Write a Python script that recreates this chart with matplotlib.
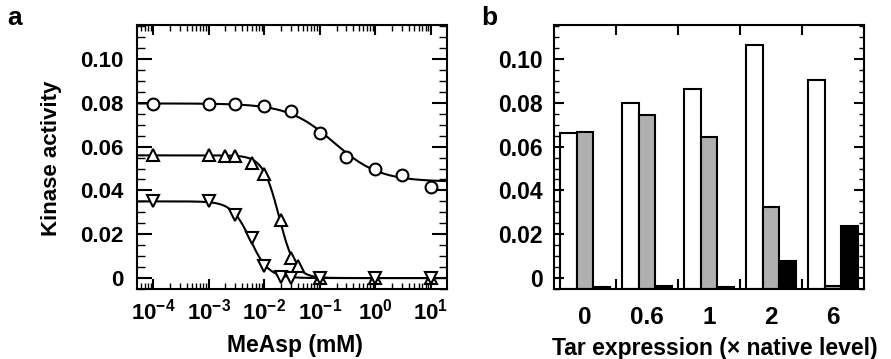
import numpy as np
import matplotlib
matplotlib.use("Agg")
import matplotlib.pyplot as plt
from matplotlib.ticker import LogLocator, MultipleLocator, NullFormatter, FixedLocator

plt.rcParams['font.family'] = ['Liberation Sans', 'DejaVu Sans']
plt.rcParams['font.weight'] = 'bold'
plt.rcParams['mathtext.fontset'] = 'custom'
plt.rcParams['mathtext.rm'] = 'Liberation Sans:bold'
plt.rcParams['mathtext.it'] = 'Liberation Sans:italic:bold'
plt.rcParams['mathtext.bf'] = 'Liberation Sans:bold'
plt.rcParams['mathtext.default'] = 'bf'

# ---------------- Panel a data ----------------
circle_x = [1e-4, 1e-3, 3e-3, 1e-2, 3e-2, 1e-1, 3e-1, 1, 3, 10]
circle_y = [0.0796, 0.0796, 0.0796, 0.0787, 0.0761, 0.0662, 0.0551, 0.0498, 0.0472, 0.0416]

up_x = [1e-4, 1e-3, 2e-3, 3e-3, 6e-3, 1e-2, 2e-2, 3e-2, 4e-2, 1e-1, 1, 10]
up_y = [0.0560, 0.0560, 0.0555, 0.0555, 0.0525, 0.0476, 0.0266, 0.0091, 0.0053, 0.0, 0.0, 0.0]

down_x = [1e-4, 1e-3, 3e-3, 6e-3, 1e-2, 2e-2, 3e-2, 1e-1, 1, 10]
down_y = [0.0350, 0.0350, 0.0289, 0.0183, 0.0053, 0.0005, 0.0, 0.0, 0.0, 0.0]

# fitted curve parameters (top, bottom, K, n)
circle_fit = (0.0797, 0.0440, 0.18, 1.05)
up_fit = (0.0560, 0.0, 0.0185, 3.0)
down_fit = (0.0350, 0.0, 0.0056, 2.6)

# ---------------- Panel b data ----------------
tar_levels = ['0', '0.6', '1', '2', '6']
white_vals = [0.0660, 0.0800, 0.0863, 0.1065, 0.0905]
gray_vals = [0.0666, 0.0742, 0.0646, 0.0323, -0.0035]
black_vals = [-0.0040, -0.0035, -0.0040, 0.0076, 0.0236]

y_ticks = [0, 0.02, 0.04, 0.06, 0.08, 0.10]
y_ticklabels = ['0', '0.02', '0.04', '0.06', '0.08', '0.10']

fig = plt.figure(figsize=(8.91, 3.59), dpi=100)
ax1 = fig.add_axes([137/891, 70/359, 310/891, 264/359])
ax2 = fig.add_axes([554/891, 70/359, 310/891, 264/359])

FS = 16
LW = 1.5

def hill(x, p):
    top, bot, K, n = p
    return bot + (top - bot) / (1 + (x / K) ** n)

xlim_a = (10 ** -4.29, 10 ** 1.29)
xs = np.logspace(np.log10(xlim_a[0]), np.log10(xlim_a[1]), 400)
for p in (circle_fit, up_fit, down_fit):
    ax1.plot(xs, hill(xs, p), color='black', lw=1.5, zorder=2)

ms = 8.5
ax1.plot(circle_x, circle_y, 'o', ms=ms, mfc='white', mec='black', mew=1.5, zorder=3, clip_on=False)
ax1.plot(up_x, up_y, '^', ms=ms + 0.5, mfc='white', mec='black', mew=1.5, zorder=3, clip_on=False)
ax1.plot(down_x, down_y, 'v', ms=ms + 0.5, mfc='white', mec='black', mew=1.5, zorder=4, clip_on=False)

ax1.set_xscale('log')
ax1.set_xlim(*xlim_a)
ax1.set_ylim(-0.005, 0.1155)
ax1.xaxis.set_major_locator(FixedLocator([1e-4, 1e-3, 1e-2, 1e-1, 1, 10]))
ax1.xaxis.set_minor_locator(LogLocator(base=10, subs=np.arange(2, 10), numticks=20))
ax1.xaxis.set_minor_formatter(NullFormatter())
ax1.set_yticks(y_ticks)
ax1.set_yticklabels(y_ticklabels)
ax1.yaxis.set_minor_locator(MultipleLocator(0.005))
ax1.tick_params(axis='x', which='major', direction='in', length=7, width=LW, top=True, labelsize=FS, pad=7)
ax1.tick_params(axis='x', which='minor', direction='in', length=4, width=1.0, top=True)
ax1.tick_params(axis='y', which='major', direction='in', length=11, width=LW, right=True, labelsize=FS, pad=10)
ax1.tick_params(axis='y', which='minor', direction='in', length=6, width=1.0, right=True)
for s in ax1.spines.values():
    s.set_linewidth(LW)
ax1.set_xlabel('MeAsp (mM)', fontsize=16.5, fontweight='bold')
ax1.xaxis.set_label_coords(0.51, -0.17)
ax1.set_ylabel('Kinase activity', fontsize=FS, fontweight='bold')
ax1.yaxis.set_label_coords(-0.242, 0.496)

# Panel b
x = np.arange(len(tar_levels))
w = 0.27
base = -0.005
ax2.bar(x - w, np.array(white_vals) - base, w, bottom=base, color='white', edgecolor='black', lw=LW, align='center')
ax2.bar(x, np.array(gray_vals) - base, w, bottom=base, color='#b0b0b0', edgecolor='black', lw=LW, align='center')
ax2.bar(x + w, np.array(black_vals) - base, w, bottom=base, color='black', edgecolor='black', lw=LW, align='center')
ax2.set_xlim(-0.5, len(tar_levels) - 0.5)
ax2.set_ylim(-0.005, 0.1155)
ax2.set_xticks(x + 0.5)
ax2.set_xticklabels([])
ax2.set_xticks(x, minor=True)
ax2.set_xticklabels(tar_levels, minor=True)
ax2.tick_params(axis='x', which='major', direction='in', length=7, width=LW, top=True, bottom=True)
ax2.tick_params(axis='x', which='minor', length=0, labelsize=17.5, pad=12)
ax2.set_yticks(y_ticks)
ax2.set_yticklabels(y_ticklabels)
ax2.yaxis.set_minor_locator(MultipleLocator(0.005))
ax2.tick_params(axis='y', which='major', direction='in', length=7, width=LW, right=True, labelsize=16.5, pad=8)
ax2.tick_params(axis='y', which='minor', direction='in', length=3.5, width=1.0, right=True)
for s in ax2.spines.values():
    s.set_linewidth(LW)
ax2.set_xlabel('Tar expression (\u00d7 native level)', fontsize=16.5, fontweight='bold')
ax2.xaxis.set_label_coords(0.52, -0.182)

fig.text(7/891, 1 - 25/359, 'a', fontsize=19, fontweight='heavy', ha='left', va='baseline')
fig.text(481/891, 1 - 25/359, 'b', fontsize=19, fontweight='heavy', ha='left', va='baseline')

fig.savefig('out.png', dpi=100)
